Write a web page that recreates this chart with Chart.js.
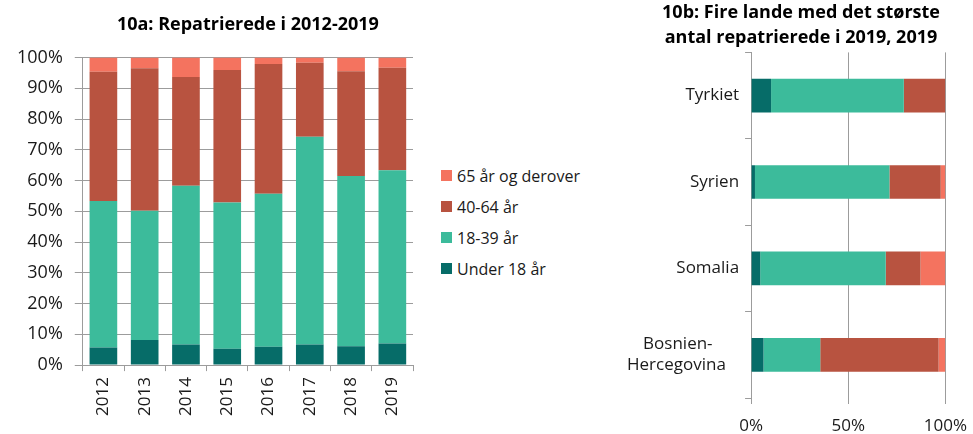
<!DOCTYPE html>
<html>
<head>
<meta charset="utf-8">
<script src="https://cdn.jsdelivr.net/npm/chart.js@4"></script>
<style>
  html, body { margin: 0; padding: 0; background: #fff; overflow: hidden; }
  #left { position: absolute; left: 0; top: 0; width: 420px; height: 434px; }
  #right { position: absolute; left: 621px; top: 0; width: 360px; height: 449px; }
  #legend-years { position: absolute; left: 441px; top: 160px; margin: 0; padding: 0; list-style: none;
    font-family: 'Open Sans', sans-serif; font-size: 16px; color: #1a1a1a; }
  #legend-years li { display: flex; align-items: center; height: 31px; white-space: nowrap; }
  #legend-years span.box { display: inline-block; width: 11px; height: 11px; margin-right: 5px; }
</style>
</head>
<body>
<div id="left"><canvas id="bars-years"></canvas></div>
<ul id="legend-years"></ul>
<div id="right"><canvas id="bars-countries"></canvas></div>
<script>
// 10a: share per age group, per year (%)
const years = ['2012', '2013', '2014', '2015', '2016', '2017', '2018', '2019']
const under18 = [5.7, 8.2, 6.7, 5.3, 6.0, 6.7, 6.1, 7.0]
const age18to39 = [47.7, 42.0, 51.6, 47.6, 49.7, 67.6, 55.4, 56.4]
const age40to64 = [42.0, 46.3, 35.4, 43.1, 42.2, 24.0, 34.1, 33.3]
const age65plus = [4.6, 3.5, 6.3, 4.0, 2.1, 1.7, 4.4, 3.3]

// 10b: four largest countries in 2019 (%)
const countries = ['Tyrkiet', 'Syrien', 'Somalia', ['Bosnien-\u00a0\u00a0\u00a0\u00a0\u00a0\u00a0', 'Hercegovina\u00a0\u00a0\u00a0']]
const cUnder18 = [10.3, 2.0, 4.7, 6.4]
const c18to39 = [68.3, 69.2, 64.6, 29.2]
const c40to64 = [21.4, 26.4, 17.9, 60.9]
const c65plus = [0, 2.4, 12.8, 3.5]

const seriesNames = ['Under 18 år', '18-39 år', '40-64 år', '65 år og derover']
const seriesColors = ['#066c68', '#3cbb9b', '#b85340', '#f4735f']
const pctTicks = v => v + '%'

Chart.defaults.font.family = "'Open Sans', sans-serif"
Chart.defaults.color = '#1a1a1a'
Chart.defaults.animation = false

const gridGray = '#9c9c9c'

const makeSets = (lists, barPct) => lists.map((d, i) => ({
  label: seriesNames[i],
  backgroundColor: seriesColors[i],
  borderWidth: 0,
  barPercentage: barPct,
  categoryPercentage: 1,
  data: d,
}))

// html legend, built from the chart's own legend items (top item = last series)
const htmlLegend = {
  id: 'htmlLegend',
  afterUpdate(chart, args, opts) {
    const ul = document.getElementById(opts.containerID)
    ul.innerHTML = ''
    const items = chart.options.plugins.legend.labels.generateLabels(chart).reverse()
    items.forEach(item => {
      const li = document.createElement('li')
      const box = document.createElement('span')
      box.className = 'box'
      box.style.background = item.fillStyle
      li.appendChild(box)
      li.appendChild(document.createTextNode(item.text))
      ul.appendChild(li)
    })
  },
}

const barConfigYears = {
  type: 'bar',
  data: {
    labels: years,
    datasets: makeSets([under18, age18to39, age40to64, age65plus], 0.67),
  },
  options: {
    responsive: true,
    maintainAspectRatio: false,
    layout: { padding: { left: 5, right: 7, bottom: 12 } },
    plugins: {
      title: {
        display: true,
        fullSize: false,
        text: '10a: Repatrierede i 2012-2019',
        font: { size: 18, weight: 'bold' },
        color: '#000',
        padding: { top: 14, bottom: 22 },
      },
      legend: { display: false },
      htmlLegend: { containerID: 'legend-years' },
      tooltip: { enabled: false },
    },
    scales: {
      x: {
        stacked: true,
        grid: { drawOnChartArea: false, offset: true, tickLength: 6, color: gridGray },
        border: { color: gridGray },
        ticks: { maxRotation: 90, minRotation: 90, padding: 6, font: { size: 17 } },
      },
      y: {
        stacked: true,
        min: 0,
        max: 100,
        grid: { color: gridGray, tickLength: 8 },
        border: { color: gridGray },
        ticks: { stepSize: 10, padding: 12, callback: pctTicks, font: { size: 18 } },
      },
    },
  },
  plugins: [htmlLegend],
}

const barsYears = document.getElementById('bars-years')
window.barYears = new Chart(barsYears, barConfigYears)

const barConfigCountries = {
  type: 'bar',
  data: {
    labels: countries,
    datasets: makeSets([cUnder18, c18to39, c40to64, c65plus], 0.39),
  },
  options: {
    indexAxis: 'y',
    responsive: true,
    maintainAspectRatio: false,
    layout: { padding: { bottom: 0 } },
    plugins: {
      title: {
        display: true,
        text: ['10b: Fire lande med det største', 'antal repatrierede i 2019, 2019'],
        font: { size: 18, weight: 'bold', lineHeight: 1.4 },
        color: '#000',
        padding: { top: 0, bottom: 2 },
      },
      legend: { display: false },
      tooltip: { enabled: false },
    },
    scales: {
      x: {
        stacked: true,
        min: 0,
        max: 100,
        grid: { color: gridGray, tickLength: 6 },
        border: { display: false },
        ticks: { stepSize: 50, padding: 14, callback: pctTicks, font: { size: 17, lineHeight: 1 } },
      },
      y: {
        stacked: true,
        grid: { drawOnChartArea: false, offset: true, tickLength: 6, color: gridGray },
        border: { color: gridGray },
        ticks: { padding: 6, font: { size: 17 } },
      },
    },
  },
}

const barsCountries = document.getElementById('bars-countries')
window.barCountries = new Chart(barsCountries, barConfigCountries)
</script>
</body>
</html>
